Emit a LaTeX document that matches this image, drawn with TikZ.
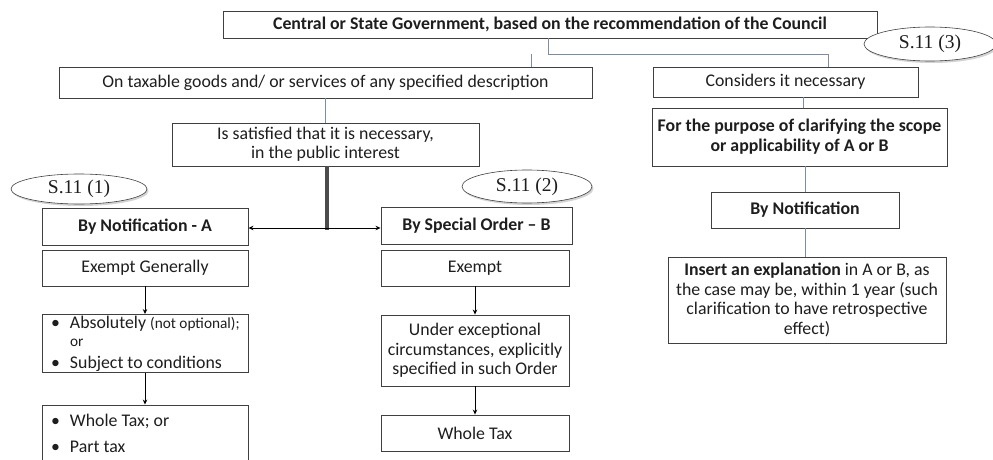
\documentclass[tikz,border=0pt]{standalone}
\usepackage{fontspec}
\setmainfont{Carlito}
\newfontfamily\serifS{Liberation Serif}
\usetikzlibrary{shapes.geometric,shadows,arrows.meta}
\definecolor{boxc}{RGB}{64,64,64}
\definecolor{connc}{RGB}{125,140,165}
\definecolor{txtc}{RGB}{30,30,30}
\newcommand{\bline}[1]{\makebox[188pt][l]{#1}}
\newcommand{\bul}{\makebox[19pt][l]{\textbullet}}
\begin{document}
\begin{tikzpicture}[x=1pt,y=-1pt,
  box/.style={draw=boxc, line width=0.9pt, fill=white, inner sep=2pt,
    font=\fontsize{17.8}{19.5}\selectfont, text=txtc, align=center},
  ell/.style={ellipse, draw=boxc, line width=0.6pt, fill=white,
    drop shadow={shadow xshift=1.5pt, shadow yshift=-2pt, opacity=0.35},
    font=\serifS\fontsize{19.5}{20}\selectfont, text=txtc, inner sep=0pt},
  conn/.style={draw=connc, line width=0.9pt},
  arr/.style={draw=black, line width=0.9pt, -{Stealth[length=5pt,width=4.5pt]}},
  dbl/.style={draw=black!70, line width=3.2pt}]
\useasboundingbox (0,0) rectangle (993,460);

% top row
\node[box, minimum width=654, minimum height=27, font=\fontsize{17.8}{19.5}\selectfont\bfseries] (top) at (550,24.5)
  {Central or State Government, based on the recommendation of the Council};
\node[ell, minimum width=132, minimum height=34] (e3) at (930,44) {S.11 (3)};
\node[box, minimum width=533, minimum height=31] (tax) at (325.5,82.5)
  {On taxable goods and/ or services of any specified description};
\node[box, minimum width=265, minimum height=30] (cons) at (785.5,82) {Considers it necessary};

% connectors from top
\coordinate (j1) at (548,54);
\coordinate (j2) at (531,54);
\draw[conn] (top.south -| j1) -- (j1) -| ([xshift=42.5pt]cons.north);
\draw[conn] (j2) -- (j2 |- tax.north);

% middle
\node[box, minimum width=307, minimum height=43] (sat) at (325.5,144.5)
  {Is satisfied that it is necessary,\\in the public interest};
\draw[conn] (tax.south) -- (sat.north);

% left column A
\node[ell, minimum width=136, minimum height=30] (e1) at (79,189) {S.11 (1)};
\node[box, minimum width=206, minimum height=37, font=\fontsize{17.8}{19.5}\selectfont\bfseries] (notA) at (145,226.5) {By Notification - A};
\node[box, minimum width=206, minimum height=58, align=left, inner ysep=-4pt] (bulA) at (145,343.5)
  {\bline{\bul Absolutely {\fontsize{15.3}{16}\selectfont(not optional);}}\\[-1pt]
   \bline{\hspace*{19pt}{\fontsize{15.3}{16}\selectfont or}}\\[2pt]
   \bline{\bul Subject to conditions}};
\node[box, minimum width=206, minimum height=36] (exA) at (145,268) {Exempt Generally};
\node[box, minimum width=206, minimum height=57, align=left] (taxA) at (145,433.5)
  {\bline{\bul Whole Tax; or}\\[7pt]
   \bline{\bul Part tax}};
\draw[arr] (exA.south) -- (bulA.north);
\draw[arr] (bulA.south) -- (taxA.north);

% middle column B
\node[ell, minimum width=130, minimum height=33] (e2) at (527,186.5) {S.11 (2)};
\node[box, minimum width=191, minimum height=37, font=\fontsize{17.8}{19.5}\selectfont\bfseries] (ordB) at (476.5,225.5) {By Special Order -- B};
\node[box, minimum width=188, minimum height=36] (exB) at (475,268) {Exempt};
\node[box, minimum width=188, minimum height=71] (undB) at (475,350.5)
  {Under exceptional\\circumstances, explicitly\\specified in such Order};
\node[box, minimum width=188, minimum height=36] (whB) at (475,433) {Whole Tax};
\draw[arr] (exB.south) -- (undB.north);
\draw[arr] (undB.south) -- (whB.north);

% split from sat
\coordinate (split) at (327,228);
\draw[dbl] (sat.south -| split) -- ([yshift=-1.6pt]split);
\draw[arr] (split) -- (split -| notA.east);
\draw[arr] (split) -- (split -| ordB.west);

% right column
\node[box, minimum width=295, minimum height=58, font=\fontsize{17.8}{20}\selectfont\bfseries, inner xsep=0pt] (purp) at (799.5,137)
  {For the purpose of clarifying the scope\\or applicability of A or B};
\node[box, minimum width=188, minimum height=36, font=\fontsize{17.8}{19.5}\selectfont\bfseries] (notC) at (805,210) {By Notification};
\node[box, minimum width=278, minimum height=86] (ins) at (807,300)
  {\textbf{Insert an explanation} in A or B, as\\the case may be, within 1 year (such\\clarification to have retrospective\\effect)};
\coordinate (c1) at (803,100);
\draw[conn] (cons.south -| c1) -- (purp.north -| c1);
\draw[conn] (purp.south -| notC.north) -- (notC.north);
\draw[conn] (notC.south) -- (notC.south |- ins.north);
\end{tikzpicture}
\end{document}
